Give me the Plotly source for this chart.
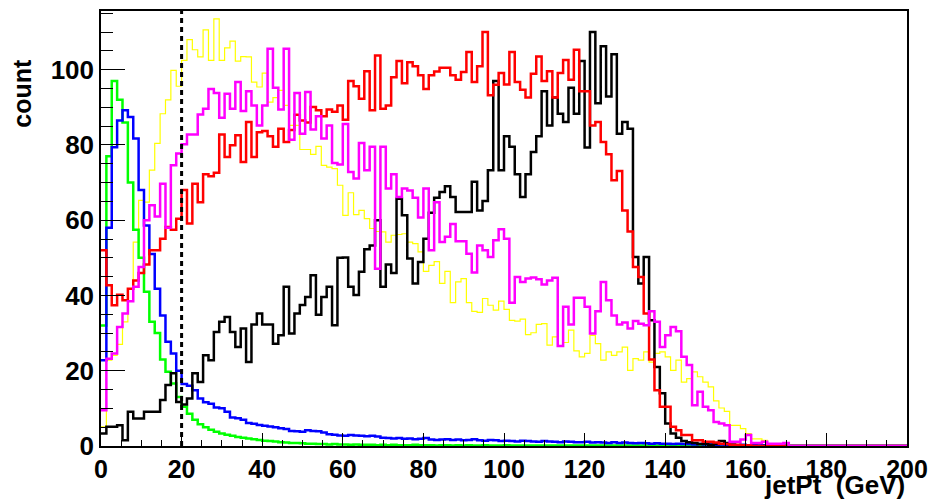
import numpy as np
import plotly.graph_objects as go

# Histogram definition: 150 bins over 0-200 GeV
n_bins = 150
x_min, x_max = 0, 200

x_ticks = [0, 20, 40, 60, 80, 100, 120, 140, 160, 180, 200]
y_ticks = [0, 20, 40, 60, 80, 100]
cut_value = 20

green = [
    32, 77, 97, 92, 86, 70, 57.5, 50, 41, 33,
    30, 23, 19.7, 16.6, 13, 10.4, 8.6, 7, 5.8, 5,
    4.3, 3.8, 3.3, 3, 2.7, 2.4, 2.2, 2, 1.8, 1.6,
    1.4, 1.3, 1.2, 1.0, 0.9, 0.8, 0.8, 0.7, 0.6, 0.6,
    0.5, 0.5, 0.4, 0.5, 0.4, 0.4, 0.3, 0.4, 0.3, 0.3,
    0.3, 0.2, 0.3, 0.2, 0.3, 0.2, 0.2, 0.2, 0.3, 0.2,
    0.2, 0.2, 0.1, 0.2, 0.2, 0.1, 0.2, 0.1, 0.2, 0.1,
    0.1, 0.2, 0.1, 0.1, 0.1, 0.2, 0.1, 0.1, 0.1, 0.1,
    0.1, 0.1, 0.1, 0.1, 0.1, 0.1, 0.1, 0.1, 0.1, 0.1,
    0.1, 0.1, 0.1, 0.1, 0.1, 0.1, 0.1, 0.1, 0.1, 0.1,
    0.1, 0.1, 0.1, 0.1, 0.1, 0.1, 0.1, 0.1, 0.1, 0.1,
    0, 0, 0, 0, 0, 0, 0, 0, 0, 0,
    0, 0, 0, 0, 0, 0, 0, 0, 0, 0,
    0, 0, 0, 0, 0, 0, 0, 0, 0, 0,
    0, 0, 0, 0, 0, 0, 0, 0, 0, 0,
]

blue = [
    22.8, 58, 79.4, 86.5, 89.2, 87.4, 81.7, 68, 58.6, 51,
    41.8, 34.7, 27.7, 24.6, 20, 16.5, 16, 14.8, 12.6, 11.6,
    11.2, 10.2, 10, 9.1, 7.6, 7.4, 7, 6.1, 5.9, 5.6,
    5.4, 5.2, 5, 4.7, 4.5, 4, 3.9, 3.8, 4.2, 4.0,
    3.9, 3.6, 3.1, 3.0, 2.8, 2.7, 2.9, 2.8, 2.7, 2.6,
    2.7, 2.5, 2.2, 2.1, 2.0, 2.1, 1.9, 2.0, 1.8, 1.9,
    2.1, 1.7, 1.6, 1.7, 1.8, 1.6, 1.7, 1.5, 1.6, 1.8,
    1.5, 1.4, 1.6, 1.5, 1.3, 1.4, 1.3, 1.2, 1.4, 1.3,
    1.2, 1.1, 1.3, 1.2, 1.1, 1.0, 1.2, 1.1, 1.0, 1.0,
    1.1, 0.9, 1.0, 0.9, 0.8, 1.0, 0.8, 0.9, 0.8, 0.7,
    0.8, 0.7, 0.6, 0.7, 0.6, 0.6, 0.5, 0.6, 0.5, 0.5,
    0.4, 0.5, 0.4, 0.4, 0.3, 0.4, 0.3, 0.3, 0.2, 0.3,
    0.2, 0.2, 0.1, 0.2, 0.1, 0.1, 0, 0, 0, 0,
    0, 0, 0, 0, 0, 0, 0, 0, 0, 0,
    0, 0, 0, 0, 0, 0, 0, 0, 0, 0,
]

red = [
    52, 42.7, 37.4, 40.2, 38.7, 41.8, 44, 46, 48.2, 52,
    52, 55.1, 58.2, 57.5, 60.4, 68, 59.1, 69.7, 64.8, 72.2,
    71.7, 72.6, 82.8, 76.8, 79.9, 82.6, 75.5, 86.1, 76.8, 83.4,
    83.7, 82.3, 79.5, 84.3, 80.8, 84, 88, 86.5, 86, 90.1,
    89.2, 87.6, 89.4, 88.8, 90.5, 86.7, 97, 95.6, 92.3, 99.6,
    89.2, 103.8, 89.6, 90.5, 98, 102.3, 96.4, 102, 100.9, 98.5,
    94.9, 98.5, 99.5, 100.5, 100.5, 98.5, 97.3, 99.4, 104.7, 96.7,
    100.9, 110, 93.2, 96, 99.1, 96.1, 104.7, 96.7, 94.7, 92.6,
    98.9, 103.5, 97, 99.6, 92.6, 99.1, 102.6, 97.3, 105.3, 94.3,
    94.3, 85.2, 86.1, 80.8, 77.5, 70.6, 73.1, 62.6, 57, 47.6,
    44.9, 35.2, 23, 14.8, 10.4, 10.4, 5.1, 4.2, 2.9, 2.9,
    1.5, 1.5, 1.1, 1.1, 0.9, 0.6, 0.5, 0.3, 0.3, 0.2,
    0.2, 0, 0, 0, 0, 0, 0, 0, 0, 0,
    0, 0, 0, 0, 0, 0, 0, 0, 0, 0,
    0, 0, 0, 0, 0, 0, 0, 0, 0, 0,
]

black = [
    3.3, 5.1, 5.1, 5.5, 1.5, 9.1, 7.3, 7.3, 9.1, 9.1,
    9.1, 12.2, 16.2, 19.3, 11.7, 11, 12.6, 19.3, 17, 24.1,
    22.8, 30.3, 33, 34.3, 30.3, 26.3, 31.2, 22.3, 32.3, 35.2,
    32.3, 32.3, 27.2, 29.4, 42.3, 29.9, 35.2, 37.5, 39.6, 45.4,
    34.9, 39.6, 42.3, 32.1, 50, 50.1, 42.3, 40.1, 46.3, 52.3,
    53.3, 60, 42.3, 48.2, 46, 65.7, 61.3, 49.8, 43.2, 48.9,
    55.1, 62, 66, 67.5, 69, 66.2, 62.2, 62.2, 62.2, 70.2,
    62.6, 65.1, 73.3, 97, 73.3, 82.3, 79.5, 72.2, 66.2, 72.2,
    78.1, 82.3, 94.3, 85.2, 92.6, 88.3, 86.1, 95.2, 88.3, 102.3,
    79.3, 110, 91.1, 106.2, 92.9, 104.1, 83, 86.1, 84.3, 50.2,
    43.2, 50.2, 33.4, 21, 14, 6, 3.3, 2.2, 1.3, 1,
    0.8, 0.5, 0.6, 0.3, 0.5, 1.3, 0.8, 0.3, 0, 0,
    0, 0, 0, 0, 0, 0, 0, 0, 0, 0,
    0, 0, 0, 0, 0, 0, 0, 0, 0, 0,
    0, 0, 0, 0, 0, 0, 0, 0, 0, 0,
]

magenta = [
    9.5, 23.2, 24.6, 31.6, 35.2, 38.5, 42.3, 47.6, 60, 64,
    61, 69.7, 58, 74.6, 77.7, 80.2, 82.8, 82.8, 88.1, 89.6,
    94.9, 93.8, 87.2, 93.6, 89.6, 96.7, 89, 94.3, 90.5, 85.2,
    90.5, 105.6, 95.2, 89.4, 105.6, 81.4, 93.8, 83, 94.1, 84.1,
    87.6, 81.7, 85.2, 75.2, 74.8, 85.6, 72.8, 71.1, 80.5, 73.3,
    79.5, 47.1, 79.5, 68.4, 72.2, 66.2, 68.4, 67.9, 66, 60.7,
    68.4, 52, 64.8, 54.2, 55.6, 59, 54.4, 54.4, 51.1, 46.1,
    53.3, 52, 50.2, 54.7, 57.6, 55.1, 38.1, 44.9, 43.6, 44.5,
    44.8, 44.3, 42.9, 44, 44.7, 26.6, 37, 32.3, 39.4, 39.4,
    37, 29.9, 35.8, 43.6, 38.7, 34.7, 32.3, 32.8, 31.2, 33.2,
    32.5, 32.1, 35.8, 33, 26.3, 29.4, 31.6, 30.5, 23.7, 21.5,
    10.8, 14.4, 10.4, 9.5, 6.4, 6, 5.5, 1.1, 1.1, 1.7,
    2.9, 0.8, 0.8, 1.1, 0.6, 0.6, 0.6, 0.8, 0, 0,
    0, 0, 0, 0, 0, 0, 0, 0, 0, 0,
    0, 0, 0, 0, 0, 0, 0, 0, 0, 0,
]

yellow = [
    5.1, 22.8, 24.1, 27, 33, 41.8, 54.2, 65.3, 64.8, 73.3,
    80.4, 88.3, 92, 99.8, 95.6, 102.5, 108, 105.3, 103.4, 110.6,
    102.5, 113.5, 102.5, 105.8, 107.6, 102.3, 103.5, 103.4, 96.7, 95.4,
    99.1, 91.4, 92.6, 94.5, 90.5, 85.2, 85.2, 78.8, 78.8, 77.5,
    79.6, 74.6, 74.1, 73.7, 69.3, 61.3, 67.3, 61.5, 62.6, 60.4,
    57.8, 57, 56.9, 54.2, 56, 56.2, 56.4, 54.2, 53.8, 51.6,
    46.4, 48, 49, 43.2, 46.4, 38.1, 43.6, 44.5, 38.1, 35.8,
    35.5, 39.2, 37.4, 36.1, 38.5, 36.3, 33.4, 33.2, 33.7, 29.6,
    30.1, 32.3, 32.5, 26.8, 29, 26.6, 27.5, 30.8, 25.3, 23.7,
    24.6, 29.4, 27.2, 22.8, 25, 24.1, 25, 26.3, 20.1, 23.2,
    22.8, 25, 22.3, 24.6, 25, 23.7, 20.1, 22.8, 17, 17.9,
    19.7, 18.4, 17, 15.7, 12, 10.1, 9.2, 5.5, 5.5, 4.6,
    3.3, 1.9, 1.9, 1.5, 0.6, 0.6, 0.6, 0.3, 0, 0,
    0, 0, 0, 0, 0, 0, 0, 0, 0, 0,
    0, 0, 0, 0, 0, 0, 0, 0, 0, 0,
]

edges = np.linspace(x_min, x_max, n_bins + 1)

series = [
    ("yellow", yellow, "#ffff00", 1.2),
    ("green", green, "#00ff00", 2.5),
    ("blue", blue, "#0000ff", 2.5),
    ("black", black, "#000000", 2.5),
    ("red", red, "#ff0000", 2.5),
    ("magenta", magenta, "#ff00ff", 2.5),
]

fig = go.Figure()
for name, vals, color, width in series:
    fig.add_trace(go.Scatter(
        x=edges, y=list(vals) + [vals[-1]], mode="lines", name=name,
        line=dict(shape="hv", color=color, width=width),
        showlegend=False, hoverinfo="skip",
    ))

fig.add_shape(type="line", xref="x", yref="paper", x0=cut_value, x1=cut_value,
              y0=0, y1=1, line=dict(color="black", width=3, dash="5px,4px"))

y_tick_font = dict(family="Liberation Sans", size=26, color="black", weight="bold")
x_tick_font = dict(family="Liberation Sans", size=25, color="black", weight="bold")

fig.update_layout(
    width=932, height=500,
    margin=dict(l=101, r=25, t=11, b=54, pad=0, autoexpand=False),
    paper_bgcolor="white", plot_bgcolor="white",
    template="none",
    xaxis=dict(range=[x_min, x_max], tickvals=x_ticks, ticktext=[str(v) for v in x_ticks],
               ticks="inside", ticklen=13, tickwidth=1, tickcolor="black",
               showline=True, linecolor="black", linewidth=1.5, mirror=True,
               showgrid=False, zeroline=False, tickfont=x_tick_font,
               minor=dict(ticks="inside", ticklen=6, dtick=5, tickcolor="black", showgrid=False)),
    yaxis=dict(range=[0, 115.6], tickvals=y_ticks, ticktext=[str(v) for v in y_ticks],
               ticks="inside", ticklen=24, tickwidth=1, tickcolor="black",
               showline=True, linecolor="black", linewidth=1.5, mirror=True,
               showgrid=False, zeroline=False, tickfont=y_tick_font,
               minor=dict(ticks="inside", ticklen=12, dtick=5, tickcolor="black", showgrid=False)),
    annotations=[
        dict(text="jetPt  (GeV)", xref="paper", yref="paper", x=1.0, y=-0.090,
             xanchor="right", yanchor="middle", showarrow=False,
             font=dict(family="Liberation Sans", size=26, color="black", weight="bold")),
        dict(text="count", xref="paper", yref="paper", x=-0.098, y=0.81,
             xanchor="center", yanchor="middle", textangle=-90, showarrow=False,
             font=dict(family="Liberation Sans", size=25, color="black", weight="bold")),
    ],
)

fig.write_html("out.html", config={"displayModeBar": False},
               post_script="document.body.style.margin='0';document.body.style.overflow='hidden';")
